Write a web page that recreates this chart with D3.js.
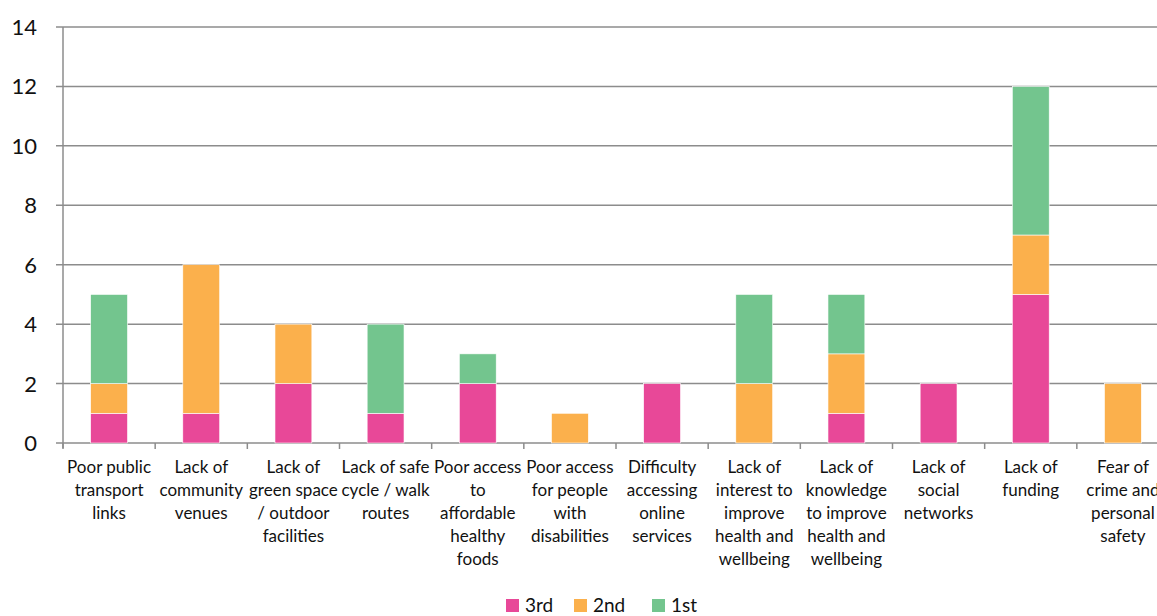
<!DOCTYPE html>
<html>
<head>
<meta charset="utf-8">
<script src="https://cdn.jsdelivr.net/npm/d3@7"></script>
<style>
  html, body { margin: 0; padding: 0; background: #fff; overflow: hidden; }
  svg { display: block; font-family: Lato, "Open Sans", sans-serif; }
</style>
</head>
<body>
<svg id="chart" width="1157" height="616"></svg>
<script>
// Barriers, ranked responses (counts)
const categories = [
  ["Poor public", "transport", "links"],
  ["Lack of", "community", "venues"],
  ["Lack of", "green space", "/ outdoor", "facilities"],
  ["Lack of safe", "cycle / walk", "routes"],
  ["Poor access", "to", "affordable", "healthy", "foods"],
  ["Poor access", "for people", "with", "disabilities"],
  ["Difficulty", "accessing", "online", "services"],
  ["Lack of", "interest to", "improve", "health and", "wellbeing"],
  ["Lack of", "knowledge", "to improve", "health and", "wellbeing"],
  ["Lack of", "social", "networks"],
  ["Lack of", "funding"],
  ["Fear of", "crime and", "personal", "safety"]
];
const third  = [1, 1, 2, 1, 2, 0, 2, 0, 1, 2, 5, 0];
const second = [1, 5, 2, 0, 0, 1, 0, 2, 2, 0, 2, 2];
const first  = [3, 0, 0, 3, 1, 0, 0, 3, 2, 0, 5, 0];
const seriesNames = ["3rd", "2nd", "1st"];
const seriesColors = ["#E84898", "#FBB04C", "#73C58E"];
const yTicks = [0, 2, 4, 6, 8, 10, 12, 14];

const rows = categories.map((c, i) => ({ key: i, "3rd": third[i], "2nd": second[i], "1st": first[i] }));
const stacked = d3.stack().keys(seriesNames)(rows);

const svg = d3.select("#chart");
const x = d3.scaleBand().domain(d3.range(categories.length)).range([63, 1169]).paddingInner(0.6).paddingOuter(0.3);
const y = d3.scaleLinear().domain([0, 14]).range([443, 27]);

// gridlines
svg.append("g").selectAll("line").data(yTicks).join("line")
  .attr("x1", 56).attr("x2", 1169)
  .attr("y1", d => y(d)).attr("y2", d => y(d))
  .attr("stroke", "#8C8C8C").attr("stroke-width", 1.5);

// bars
svg.append("g").selectAll("g").data(stacked).join("g")
  .attr("fill", (d, i) => seriesColors[i])
  .selectAll("rect").data(d => d).join("rect")
  .attr("x", d => x(d.data.key))
  .attr("width", x.bandwidth())
  .attr("y", d => y(d[1]))
  .attr("height", d => y(d[0]) - y(d[1]))
  .attr("stroke", "#fff").attr("stroke-width", 0.6);

// y axis line
svg.append("line").attr("x1", 63).attr("x2", 63).attr("y1", y(14)).attr("y2", y(0) + 5)
  .attr("stroke", "#8C8C8C").attr("stroke-width", 1.5);

// x axis ticks between categories
const step = x.step();
svg.append("g").selectAll("line").data(d3.range(categories.length + 1)).join("line")
  .attr("x1", d => 63 + d * step).attr("x2", d => 63 + d * step)
  .attr("y1", y(0)).attr("y2", y(0) + 6)
  .attr("stroke", "#8C8C8C").attr("stroke-width", 1.5);

// y tick labels
svg.append("g").selectAll("text").data(yTicks).join("text")
  .attr("x", 37).attr("y", d => y(d) + 8)
  .attr("text-anchor", "end").attr("font-size", 22).attr("fill", "#111")
  .text(d => d);

// category labels
const lab = svg.append("g").selectAll("text").data(categories).join("text")
  .attr("text-anchor", "middle").attr("font-size", 17).attr("fill", "#111")
  .attr("x", (d, i) => x(i) + x.bandwidth() / 2)
  .attr("y", 473);
lab.selectAll("tspan").data(d => d).join("tspan")
  .attr("x", function () { return d3.select(this.parentNode).attr("x"); })
  .attr("dy", (d, i) => i === 0 ? 0 : 23)
  .text(d => d);

// legend
const legendX = [506, 574, 652];
const lg = svg.append("g").selectAll("g").data(seriesNames).join("g")
  .attr("transform", (d, i) => `translate(${legendX[i]},599)`);
lg.append("rect").attr("width", 13).attr("height", 13).attr("fill", (d, i) => seriesColors[i]);
lg.append("text").attr("x", 19).attr("y", 13).attr("font-size", 19).attr("fill", "#111").text(d => d);
</script>
</body>
</html>
